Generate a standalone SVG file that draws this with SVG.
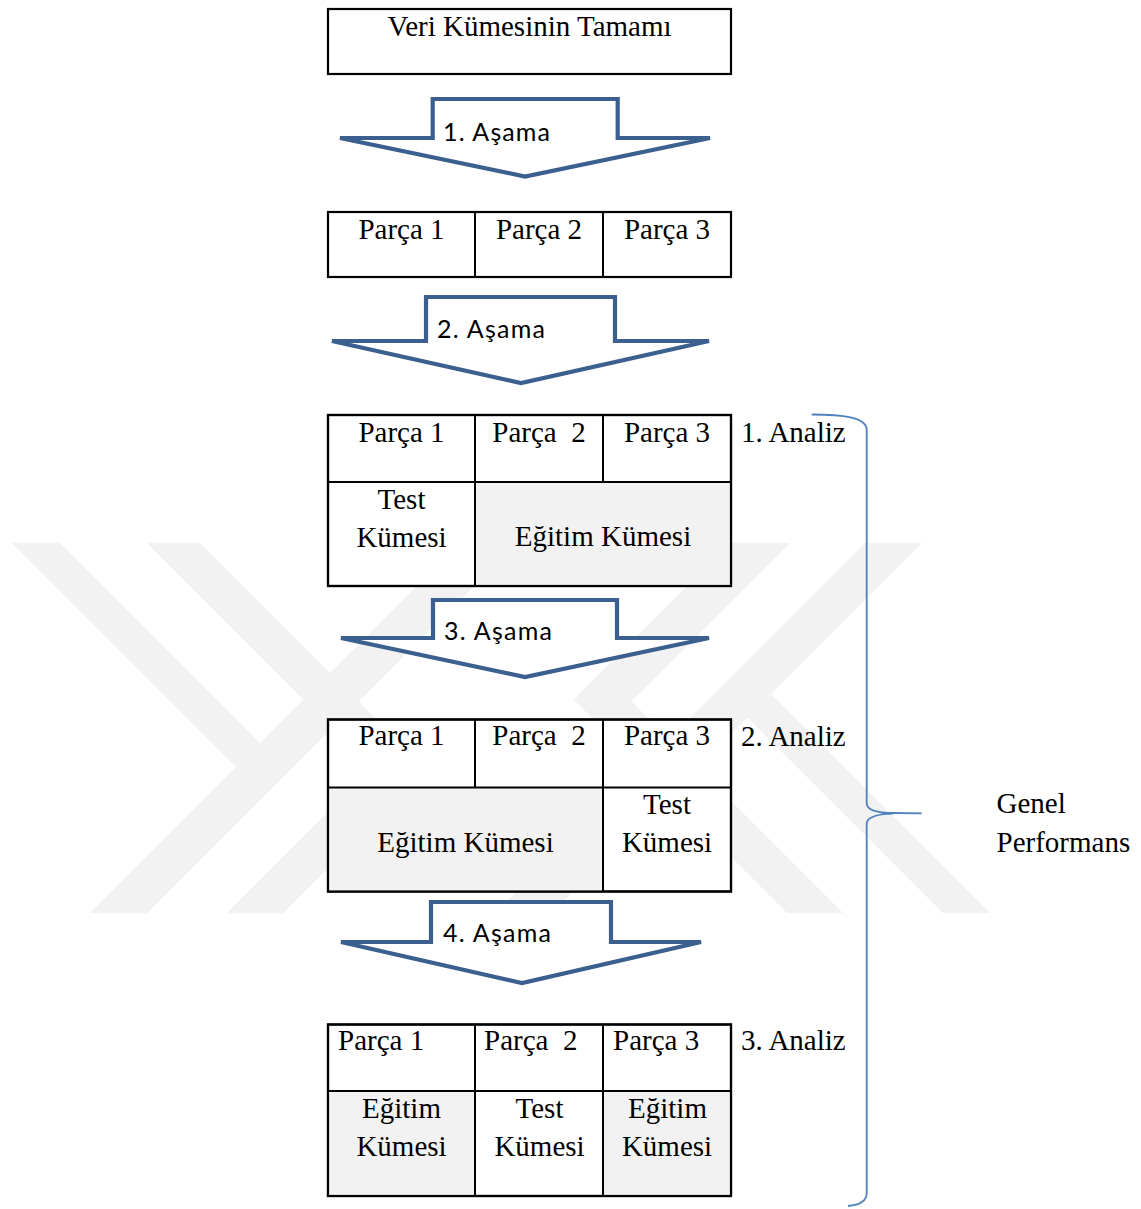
<svg xmlns="http://www.w3.org/2000/svg" width="1141" height="1209" viewBox="0 0 1141 1209">
<style>
.wm{fill:#f2f2f2}
.box{fill:#fff;stroke:#000;stroke-width:2.2}
.gray{fill:#f2f2f2}
.ln{stroke:#000;stroke-width:2}
.t{font-family:"Liberation Serif","Times New Roman",serif;font-size:29px;fill:#000}
.c{text-anchor:middle}
.arrow{fill:#fff;stroke:#3b5f8e;stroke-width:4.2;stroke-linejoin:miter}
.al{font-family:Lato,"Liberation Sans",sans-serif;font-size:25px;fill:#000}
.brace{fill:none;stroke:#4f81bd;stroke-width:1.8}
</style>
<rect width="1141" height="1209" fill="#fff"/>
<g id="watermark">
<polygon class="wm" points="90,913 147,913 517,543 460,543"/>
<polygon class="wm" points="12,543 60,543 260,743 236,767"/>
<polygon class="wm" points="147,543 200,543 426.5,769.5 283,913 227,913 372,768"/>
<polygon class="wm" points="865,543 922,543 552,913 495,913"/>
<polygon class="wm" points="943,913 990,913 771,694 747.5,717.5"/>
<polygon class="wm" points="730,543 790,543 631.5,701.5 843,913 787,913 573.5,699.5"/>
</g>
<g id="connectors">
<polygon class="arrow" points="432.7,99 617.7,99 617.7,138 710,138 525,176.5 340,138 432.7,138"/>
<text class="al" x="443" y="141" textLength="107">1. Aşama</text>
<polygon class="arrow" points="426,297 615,297 615,341 709,341 521,383 332,341 426,341"/>
<text class="al" x="437" y="338" textLength="108">2. Aşama</text>
<polygon class="arrow" points="433,600 617,600 617,638 709,638 525,677 341,638 433,638"/>
<text class="al" x="444" y="640" textLength="108">3. Aşama</text>
<polygon class="arrow" points="431,902 611,902 611,942 701,942 522,983 341,942 431,942"/>
<text class="al" x="443" y="942" textLength="108">4. Aşama</text>
</g>
<g id="box1">
<rect class="box" x="328" y="9" width="403" height="65"/>
<text class="t c" x="529.5" y="36">Veri Kümesinin Tamamı</text>
</g>
<g id="box2">
<rect class="box" x="328" y="212" width="403" height="65"/>
<line class="ln" x1="475" y1="212" x2="475" y2="277"/>
<line class="ln" x1="603" y1="212" x2="603" y2="277"/>
<text class="t c" x="401.5" y="239">Parça 1</text>
<text class="t c" x="539" y="239">Parça 2</text>
<text class="t c" x="667" y="239">Parça 3</text>
</g>
<g id="box3">
<rect class="box" x="328" y="415" width="403" height="171"/>
<rect class="gray" x="475" y="482" width="256" height="104"/>
<line class="ln" x1="328" y1="482" x2="731" y2="482"/>
<line class="ln" x1="475" y1="415" x2="475" y2="586"/>
<line class="ln" x1="603" y1="415" x2="603" y2="482"/>
<rect x="328" y="415" width="403" height="171" fill="none" stroke="#000" stroke-width="2.2"/>
<text class="t c" x="401.5" y="442">Parça 1</text>
<text class="t c" x="539" y="442" xml:space="preserve" style="white-space:pre">Parça  2</text>
<text class="t c" x="667" y="442">Parça 3</text>
<text class="t c" x="401.5" y="508.5">Test</text>
<text class="t c" x="401.5" y="546.5">Kümesi</text>
<text class="t c" x="603" y="546">Eğitim Kümesi</text>
</g>
<g id="box4">
<rect class="box" x="328" y="719.5" width="403" height="172"/>
<rect class="gray" x="328" y="787.5" width="275" height="104"/>
<line class="ln" x1="328" y1="787.5" x2="731" y2="787.5"/>
<line class="ln" x1="475" y1="719.5" x2="475" y2="787.5"/>
<line class="ln" x1="603" y1="719.5" x2="603" y2="891.5"/>
<rect x="328" y="719.5" width="403" height="172" fill="none" stroke="#000" stroke-width="2.2"/>
<text class="t c" x="401.5" y="745">Parça 1</text>
<text class="t c" x="539" y="745" xml:space="preserve" style="white-space:pre">Parça  2</text>
<text class="t c" x="667" y="745">Parça 3</text>
<text class="t c" x="465.5" y="851.5">Eğitim Kümesi</text>
<text class="t c" x="667" y="813.5">Test</text>
<text class="t c" x="667" y="851.5">Kümesi</text>
</g>
<g id="box5">
<rect class="box" x="328" y="1024.5" width="403" height="171.5"/>
<rect class="gray" x="328" y="1091" width="147" height="105"/>
<rect class="gray" x="603" y="1091" width="128" height="105"/>
<line class="ln" x1="328" y1="1091" x2="731" y2="1091"/>
<line class="ln" x1="475" y1="1024.5" x2="475" y2="1196"/>
<line class="ln" x1="603" y1="1024.5" x2="603" y2="1196"/>
<rect x="328" y="1024.5" width="403" height="171.5" fill="none" stroke="#000" stroke-width="2.2"/>
<text class="t" x="338" y="1050">Parça 1</text>
<text class="t" x="484" y="1050" xml:space="preserve" style="white-space:pre">Parça  2</text>
<text class="t" x="613" y="1050">Parça 3</text>
<text class="t c" x="401.5" y="1117.5">Eğitim</text>
<text class="t c" x="401.5" y="1156">Kümesi</text>
<text class="t c" x="539.5" y="1117.5">Test</text>
<text class="t c" x="539.5" y="1156">Kümesi</text>
<text class="t c" x="667.5" y="1117.5">Eğitim</text>
<text class="t c" x="667" y="1156">Kümesi</text>
</g>
<g id="labels">
<text class="t" x="741" y="442">1. Analiz</text>
<text class="t" x="741" y="746">2. Analiz</text>
<text class="t" x="741" y="1050">3. Analiz</text>
</g>
<g id="brace">
<path class="brace" d="M811.7,414.5 C842,414.5 866.7,417 866.7,430 L866.7,803 C866.7,810 876,813 893,813 L921.7,813.3 M893,813.6 C876,814 866.7,817 866.7,824 L866.7,1193 C866.7,1201 860,1205 848,1206"/>
</g>
<g id="result">
<text class="t" x="996.5" y="812.5">Genel</text>
<text class="t" x="996.5" y="851.5">Performans</text>
</g>
</svg>
